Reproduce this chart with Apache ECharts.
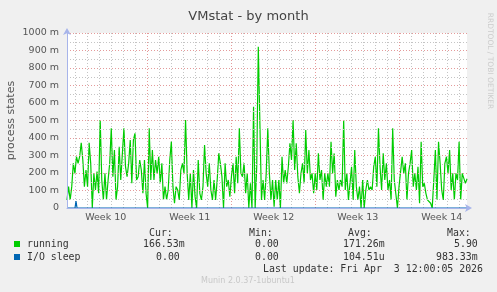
<!DOCTYPE html>
<html><head><meta charset="utf-8">
<script src="https://cdn.jsdelivr.net/npm/echarts@6/dist/echarts.min.js"></script>
<style>html,body{margin:0;padding:0;background:#f0f0f0}#c{width:497px;height:292px}</style>
</head><body><div id="c"></div>
<script>
// ---------------- data ----------------
const chartTitle = 'VMstat - by month';
const yAxisName = 'process states';
const weekLabels = ['Week 10', 'Week 11', 'Week 12', 'Week 13', 'Week 14'];
const yTickValues = [0, 100, 200, 300, 400, 500, 600, 700, 800, 900, 1000];
const yTickLabels = ['0', '100 m', '200 m', '300 m', '400 m', '500 m', '600 m', '700 m', '800 m', '900 m', '1000 m'];
// running processes (milli units), samples evenly spread over the month window
const runningValues = [
  46,122,46,122,255,198,293,255,293,373,274,122,217,122,373,255,0,198,103,208,
  84,503,160,46,198,46,160,255,455,179,331,46,122,350,160,160,455,236,179,255,
  389,141,389,427,160,179,274,217,84,274,84,0,
  455,160,331,160,274,198,293,141,255,46,122,46,103,274,379,122,27,122,103,46,
  217,255,198,503,198,46,198,0,217,65,0,274,84,46,122,360,198,122,255,103,
  46,160,46,160,312,255,179,0,255,122,
  160,65,179,255,84,293,141,455,198,179,255,84,198,0,141,0,579,0,236,922,
  484,46,160,46,198,455,198,46,160,8,160,46,160,0,293,141,217,141,236,370,
  274,503,217,370,179,84,198,255,141,446,198,331,160,
  198,84,198,103,312,160,217,46,198,122,198,122,379,198,312,65,160,103,160,122,
  503,103,198,46,141,236,46,331,122,46,122,0,160,0,103,160,103,122,103,236,
  293,122,455,236,103,312,160,255,103,160,
  46,455,160,160,0,122,122,293,198,255,46,198,255,331,122,198,103,236,27,379,
  122,141,84,46,46,27,0,160,331,46,379,255,103,46,255,293,198,331,103,198,
  46,198,160,379,46,198,198,141,167
];
const windowHours = 800;           // 400 px month window, 2 h per sample pixel
const ioTimes  = [0, 16, 18, 20, 800];
const ioValues = [0, 0, 40, 0, 0];
const seriesNames = ['running', 'I/O sleep'];
const seriesColors = ['#00cc00', '#0066b3'];
const statHeaders = ['Cur:', 'Min:', 'Avg:', 'Max:'];
const runningStats = ['166.53m', '0.00', '171.26m', '5.90'];
const ioStats = ['0.00', '0.00', '104.51u', '983.33m'];
const lastUpdate = 'Last update: Fri Apr  3 12:00:05 2026';
const footer = 'Munin 2.0.37-1ubuntu1';
const watermark = 'RRDTOOL / TOBI OETIKER';

// ---------------- layout ----------------
const plotLeft = 67, plotTop = 33, plotW = 400, plotH = 175;
const pxPerHour = plotW / windowHours;
const dayOffset = 6.6;                       // hours from last day boundary to window start
const axisEnd = windowHours + dayOffset;
const gridBase = { top: plotTop, height: plotH, containLabel: false, outerBoundsMode: 'none' };

const runningData = runningValues.map((v, i) => [i * windowHours / (runningValues.length - 1), v]);
const ioData = ioTimes.map((t, i) => [t, ioValues[i]]);

const dayLeft = plotLeft + (24 - dayOffset) * pxPerHour;
const weekLeft = plotLeft + (168 - dayOffset) * pxPerHour;
const labLeft = plotLeft - dayOffset * pxPerHour;

const axisBlue = '#a7b4ea';
const red = '#e49a9a', grey = '#c4c4c4';
const sans = '"DejaVu Sans"';
const mono = '9.9px "DejaVu Sans Mono"';

function txt(text, x, y, font, fill, align) {
  align = align || 'left';
  return { type: 'text', x: x, y: y, z: 10,
    style: { text: text, font: font, fill: fill, align: align, verticalAlign: 'middle',
             textAlign: align, textVerticalAlign: 'middle' } };
}

const graphics = [];
const colX = [149, 249, 348, 447];
statHeaders.forEach((h, i) => graphics.push(txt(h, colX[i], 233, mono, '#333')));
graphics.push({ type: 'rect', shape: { x: 14, y: 241, width: 6, height: 6 }, style: { fill: seriesColors[0] } });
graphics.push({ type: 'rect', shape: { x: 14, y: 254, width: 6, height: 6 }, style: { fill: seriesColors[1] } });
graphics.push(txt(seriesNames[0], 27, 244.5, mono, '#333'));
graphics.push(txt(seriesNames[1], 27, 257, mono, '#333'));
const runX = [143, 255, 343, 454];
const ioX = [156, 255, 343, 436];
runningStats.forEach((s, i) => graphics.push(txt(s, runX[i], 244.5, mono, '#333')));
ioStats.forEach((s, i) => graphics.push(txt(s, ioX[i], 257, mono, '#333')));
graphics.push(txt(lastUpdate, 483, 269.5, mono, '#333', 'right'));
graphics.push(txt(footer, 248, 281, '8px ' + sans, '#c8c8c8', 'center'));
graphics.push({ type: 'text', x: 490, y: 61, rotation: -Math.PI / 2, z: 10,
  style: { text: watermark, font: '7.5px ' + sans, fill: '#cccccc', align: 'center', verticalAlign: 'middle',
           textAlign: 'center', textVerticalAlign: 'middle' } });

const hiddenY = (gi) => ({ type: 'value', gridIndex: gi, show: false, min: 0, max: 1000 });

const option = {
  animation: false,
  backgroundColor: '#f0f0f0',
  title: { text: chartTitle, left: 'center', top: 5,
    textStyle: { fontFamily: sans, fontSize: 13, fontWeight: 'normal', color: '#444' } },
  grid: [
    Object.assign({ left: plotLeft, width: plotW, show: true, backgroundColor: '#ffffff', borderWidth: 0 }, gridBase),
    Object.assign({ left: dayLeft, width: plotLeft + plotW - dayLeft }, gridBase),
    Object.assign({ left: weekLeft, width: plotLeft + plotW - weekLeft }, gridBase),
    Object.assign({ left: labLeft, width: plotLeft + plotW - labLeft }, gridBase)
  ],
  xAxis: [
    { type: 'value', gridIndex: 0, min: 0, max: windowHours, z: 5,
      axisLine: { show: true, lineStyle: { color: axisBlue, width: 1 }, symbol: ['none', 'arrow'], symbolSize: [6, 7], symbolOffset: [0, 5] },
      axisTick: { show: false }, axisLabel: { show: false }, splitLine: { show: false } },
    { type: 'value', gridIndex: 1, min: 24, max: axisEnd, interval: 24,
      axisLine: { show: false }, axisTick: { show: false }, axisLabel: { show: false },
      splitLine: { show: true, showMaxLine: false, lineStyle: { color: grey, type: [1, 2], width: 1 } } },
    { type: 'value', gridIndex: 2, min: 168, max: axisEnd, interval: 168,
      axisLine: { show: false }, axisTick: { show: false }, axisLabel: { show: false },
      splitLine: { show: true, showMaxLine: false, lineStyle: { color: red, type: [1, 2], width: 1 } } },
    { type: 'value', gridIndex: 3, min: 0, max: axisEnd / 84, interval: 1,
      axisLine: { show: false }, axisTick: { show: false }, splitLine: { show: false },
      axisLabel: { show: true, margin: 5, fontFamily: sans, fontSize: 9.5, color: '#555',
        formatter: v => (Number.isInteger(v) && v % 2 === 1) ? weekLabels[(v - 1) / 2] : '' } }
  ],
  yAxis: [
    { type: 'value', gridIndex: 0, min: 0, max: 1000, interval: 100, z: 5,
      name: yAxisName, nameLocation: 'middle', nameGap: 50, nameRotate: 90, nameMoveOverlap: false,
      nameTextStyle: { fontFamily: sans, fontSize: 11, color: '#555' },
      axisLine: { show: true, lineStyle: { color: axisBlue, width: 1 }, symbol: ['none', 'arrow'], symbolSize: [6, 7], symbolOffset: [0, 5] },
      axisTick: { show: false },
      axisLabel: { margin: 8, fontFamily: sans, fontSize: 9.5, color: '#555',
        formatter: v => yTickLabels[yTickValues.indexOf(v)] },
      splitLine: { show: true, lineStyle: { color: red, type: [1, 2], width: 1 } },
      minorTick: { show: false, splitNumber: 2 },
      minorSplitLine: { show: true, lineStyle: { color: grey, type: [1, 2], width: 1 } } },
    hiddenY(1), hiddenY(2), hiddenY(3)
  ],
  series: [
    { name: seriesNames[0], type: 'line', xAxisIndex: 0, yAxisIndex: 0, data: runningData,
      symbol: 'none', lineStyle: { color: seriesColors[0], width: 1.2 }, z: 3 },
    { name: seriesNames[1], type: 'line', xAxisIndex: 0, yAxisIndex: 0, data: ioData,
      symbol: 'none', lineStyle: { color: seriesColors[1], width: 1.2 }, z: 4 }
  ],
  graphic: graphics
};
const chart = echarts.init(document.getElementById('c'), null, { renderer: 'canvas' });
chart.setOption(option);
</script></body></html>
